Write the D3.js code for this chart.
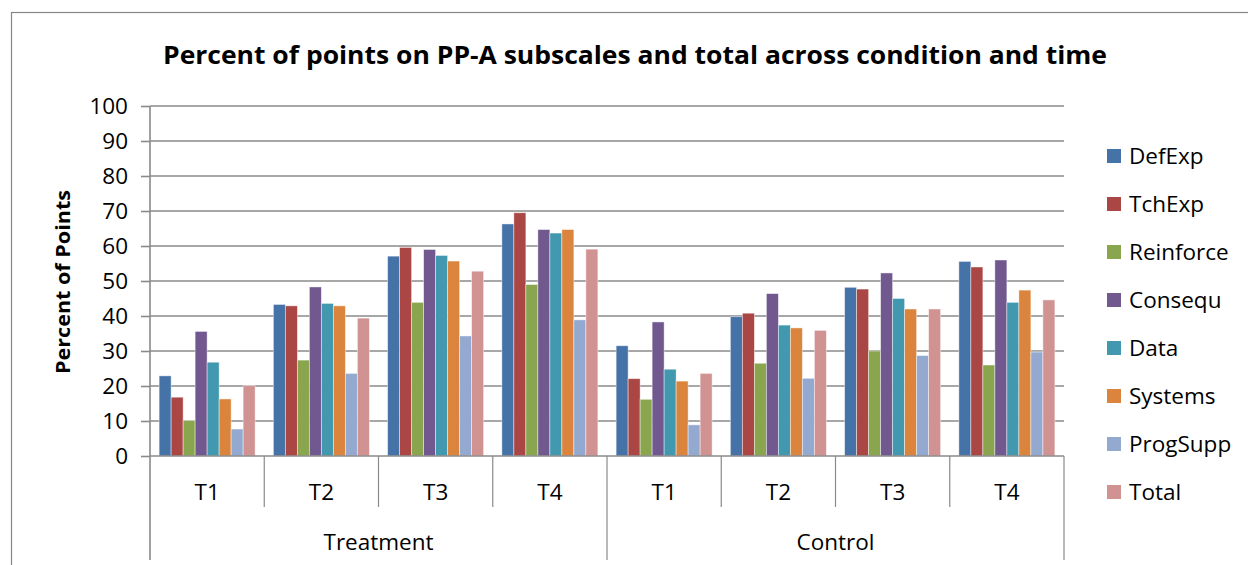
<!DOCTYPE html>
<html>
<head>
<meta charset="utf-8">
<script src="https://cdn.jsdelivr.net/npm/d3@7"></script>
<style>
  body { margin: 0; background: #fff; }
  text { font-family: "Open Sans", sans-serif; fill: #000; }
</style>
</head>
<body>
<svg width="1248" height="565"></svg>
<script>
const conditions = ["Treatment", "Control"];
const times = ["T1", "T2", "T3", "T4"];
const series = ["DefExp", "TchExp", "Reinforce", "Consequ", "Data", "Systems", "ProgSupp", "Total"];
const colors = ["#4572A7", "#AA4643", "#89A54E", "#71588F", "#4198AF", "#DB843D", "#93A9CF", "#D19392"];
const yTicks = [0, 10, 20, 30, 40, 50, 60, 70, 80, 90, 100];

// one row per condition/time, values in series order
const treatmentValues = [
    [22.9, 16.8, 10.1, 35.6, 26.8, 16.3, 7.7, 20.1],
    [43.3, 42.9, 27.4, 48.3, 43.6, 42.9, 23.6, 39.4],
    [57.1, 59.6, 43.9, 59.0, 57.3, 55.7, 34.3, 52.8],
    [66.3, 69.5, 49.0, 64.7, 63.7, 64.7, 38.9, 59.1]
];
const controlValues = [
    [31.5, 22.1, 16.2, 38.3, 24.8, 21.4, 8.9, 23.6],
    [39.8, 40.8, 26.5, 46.4, 37.4, 36.6, 22.2, 35.9],
    [48.2, 47.7, 30.0, 52.3, 45.0, 42.0, 28.7, 42.0],
    [55.6, 54.0, 26.0, 56.0, 43.9, 47.4, 29.7, 44.6]
];

const svg = d3.select("svg");
const margin = {left: 150, right: 1064, top: 106, bottom: 456};
const FS = 22.5;

// outer chart border
svg.append("rect")
    .attr("x", 11.5).attr("y", 12.5)
    .attr("width", 1300).attr("height", 600)
    .attr("fill", "none").attr("stroke", "#868686").attr("stroke-width", 1.2);

svg.append("text")
    .attr("x", 635).attr("y", 64)
    .attr("text-anchor", "middle")
    .attr("font-size", 25).attr("font-weight", "bold")
    .attr("textLength", 944).attr("lengthAdjust", "spacingAndGlyphs")
    .text("Percent of points on PP-A subscales and total across condition and time");

let groups = [];
conditions.forEach((c, ci) => {
    let vals = ci == 0 ? treatmentValues : controlValues;
    times.forEach((t, ti) => groups.push({key: c + "-" + t, cond: c, time: t, values: vals[ti]}));
});

const x0 = d3.scaleBand()
    .domain(groups.map(d => d.key))
    .range([margin.left, margin.right])
    .padding(0);
const x1 = d3.scaleBand()
    .domain(series)
    .range([0, x0.bandwidth()])
    .paddingInner(0)
    .paddingOuter(0.76);
const y = d3.scaleLinear().domain([0, 100]).range([margin.bottom, margin.top]);

// gridlines
svg.append("g")
    .selectAll("line")
    .data(yTicks.filter(d => d > 0))
    .enter().append("line")
    .attr("x1", margin.left).attr("x2", margin.right)
    .attr("y1", d => y(d)).attr("y2", d => y(d))
    .attr("stroke", "#8a8a8a").attr("stroke-width", 1.6);

// y axis
const yAxis = svg.append("g")
    .attr("transform", `translate(${margin.left},0)`)
    .call(d3.axisLeft(y).tickValues(yTicks).tickSize(9).tickPadding(13));
yAxis.select(".domain").remove();
yAxis.selectAll(".tick line").attr("stroke", "#8a8a8a").attr("stroke-width", 1.6);
yAxis.selectAll(".tick text")
    .attr("font-size", FS)
    .style("font-family", "'Open Sans', sans-serif");

svg.append("text")
    .attr("transform", "translate(70,282) rotate(-90)")
    .attr("text-anchor", "middle")
    .attr("font-size", 20).attr("font-weight", "bold")
    .attr("textLength", 184).attr("lengthAdjust", "spacingAndGlyphs")
    .text("Percent of Points");

// bars
const g = svg.append("g")
    .selectAll("g")
    .data(groups)
    .enter().append("g")
    .attr("transform", d => `translate(${x0(d.key)},0)`);
g.selectAll("rect")
    .data(d => d.values.map((v, i) => ({s: series[i], v: v, i: i})))
    .enter().append("rect")
    .attr("x", d => x1(d.s))
    .attr("width", x1.bandwidth())
    .attr("y", d => y(d.v))
    .attr("height", d => y(0) - y(d.v))
    .attr("fill", d => colors[d.i])
    .attr("stroke", "rgba(255,255,255,0.55)")
    .attr("stroke-width", 0.8);

// category axis
const axisCol = "#8a8a8a";
svg.append("line")
    .attr("x1", margin.left).attr("x2", margin.right)
    .attr("y1", y(0)).attr("y2", y(0))
    .attr("stroke", axisCol).attr("stroke-width", 1.6);
svg.append("line")
    .attr("x1", margin.left).attr("x2", margin.left)
    .attr("y1", margin.top).attr("y2", 560)
    .attr("stroke", axisCol).attr("stroke-width", 1.6);

const bottom = svg.append("g");
groups.forEach((d, i) => {
    let xr = x0(d.key) + x0.bandwidth();
    let isCondEnd = (i == 3 || i == groups.length - 1);
    bottom.append("line")
        .attr("x1", xr).attr("x2", xr)
        .attr("y1", y(0)).attr("y2", isCondEnd ? 560 : 507)
        .attr("stroke", axisCol).attr("stroke-width", 1.2);
    bottom.append("text")
        .attr("x", x0(d.key) + x0.bandwidth() / 2)
        .attr("y", 500)
        .attr("text-anchor", "middle")
        .attr("font-size", FS)
        .text(d.time);
});
conditions.forEach(c => {
    let keys = groups.filter(d => d.cond == c).map(d => d.key);
    let cx = (x0(keys[0]) + x0(keys[keys.length - 1]) + x0.bandwidth()) / 2;
    bottom.append("text")
        .attr("x", cx).attr("y", 550)
        .attr("text-anchor", "middle")
        .attr("font-size", FS)
        .text(c);
});

// legend
const legend = svg.append("g")
    .selectAll("g")
    .data(series)
    .enter().append("g")
    .attr("transform", (d, i) => `translate(1107,${156 + i * 48})`);
legend.append("rect")
    .attr("x", 0).attr("y", -7)
    .attr("width", 14).attr("height", 14)
    .attr("fill", (d, i) => colors[i]);
legend.append("text")
    .attr("x", 22).attr("y", 8)
    .attr("font-size", FS)
    .text(d => d);
</script>
</body>
</html>
